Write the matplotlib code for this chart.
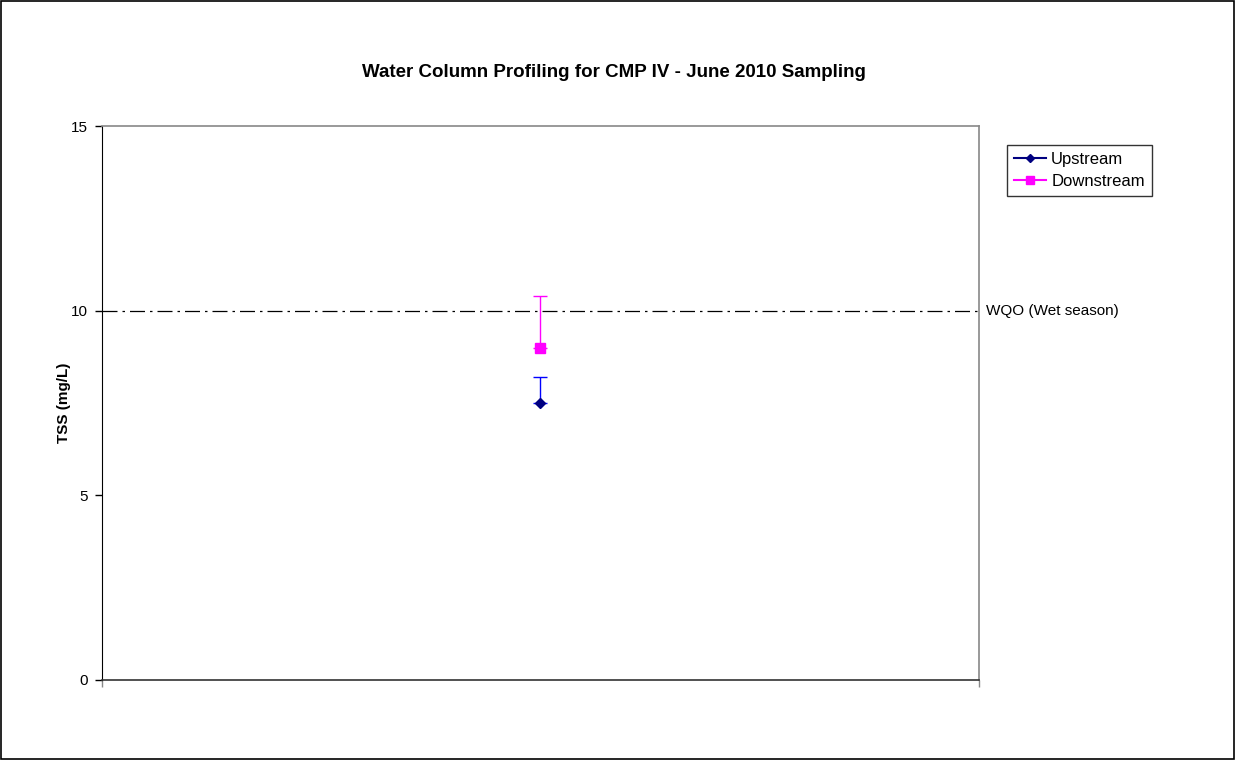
import matplotlib
matplotlib.use("Agg")
import matplotlib.pyplot as plt
from matplotlib.patches import Rectangle

# data
categories = ["June 2010"]
upstream = [7.5]
upstream_err = [0.7]
downstream = [9.0]
downstream_err = [1.4]
wqo_value = 10
y_ticks = [0, 5, 10, 15]

plt.rcParams["font.family"] = ["Liberation Sans", "DejaVu Sans"]

fig = plt.figure(figsize=(12.35, 7.6), dpi=100)
ax = fig.add_axes([0.0826, 0.1053, 0.7101, 0.7289])

x = [0.5]

ax.errorbar(x, upstream, yerr=[[0], upstream_err], fmt="none",
            ecolor="#0000FF", elinewidth=1, capsize=5, capthick=1, zorder=3)
ax.errorbar(x, downstream, yerr=[[0], downstream_err], fmt="none",
            ecolor="#FF00FF", elinewidth=1, capsize=5, capthick=1, zorder=3)
ax.plot(x, upstream, color="#000080", marker="D", markersize=5, label="Upstream", zorder=4)
ax.plot(x, downstream, color="#FF00FF", marker="s", markersize=6.5, label="Downstream", zorder=4)

ax.axhline(wqo_value, color="black", linestyle=(0, (12, 4, 2, 4)), linewidth=0.9, zorder=2)
ax.text(1.008, wqo_value, "WQO (Wet season)", transform=ax.get_yaxis_transform(),
        va="center", ha="left", fontsize=11)

ax.set_xlim(0, 1)
ax.set_ylim(0, 15)
ax.set_yticks(y_ticks)
ax.set_xticks([0, 1])
ax.set_xticklabels([])
ax.tick_params(axis="y", labelsize=11, length=5, direction="out", width=1, pad=5)
ax.tick_params(axis="x", length=5, direction="out", width=1, color="#888888")

for side in ["top", "right"]:
    ax.spines[side].set_color("#888888")
    ax.spines[side].set_linewidth(1.2)
ax.spines["left"].set_color("black")
ax.spines["bottom"].set_color("#333333")
ax.spines["bottom"].set_linewidth(1.2)

ax.set_ylabel("TSS (mg/L)", fontsize=11, fontweight="bold", labelpad=0)
fig.text(0.4975, 0.904, "Water Column Profiling for CMP IV - June 2010 Sampling",
         ha="center", va="center", fontsize=13.5, fontweight="bold")

leg = ax.legend(loc="upper left", bbox_to_anchor=(1.032, 0.966), frameon=True,
                fancybox=False, edgecolor="black", fontsize=12,
                handlelength=1.95, handletextpad=0.3, borderpad=0.4,
                labelspacing=0.45, borderaxespad=0, markerscale=0.9)
leg.get_frame().set_linewidth(1)

# outer figure border
fig.patches.append(Rectangle((0.0008, 0.0013), 0.9984, 0.9974, transform=fig.transFigure,
                             fill=False, edgecolor="black", linewidth=1.2))

fig.savefig("out.png", dpi=100)
